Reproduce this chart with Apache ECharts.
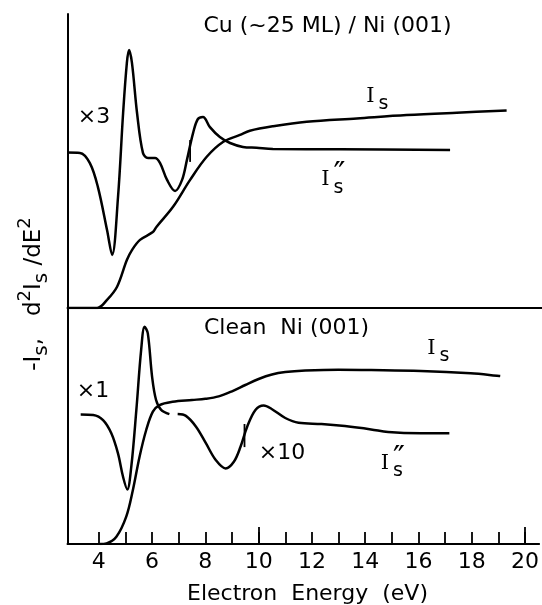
<!DOCTYPE html>
<html>
<head>
<meta charset="utf-8">
<script src="https://cdn.jsdelivr.net/npm/echarts@6/dist/echarts.min.js"></script>
<style>
  html, body { margin: 0; padding: 0; background: #fff; }
  #chart { width: 542px; height: 605px; }
</style>
</head>
<body>
<div id="chart"></div>
<script>
// energies in eV, intensities in arbitrary units
const cuIs = [
  [2.82, 0], [3.93, 0], [4.30, 2.7], [4.67, 7.0], [5.04, 16.0], [5.23, 19.3],
  [5.53, 22.7], [6.01, 25.3], [6.15, 27.1], [6.77, 33.8], [7.40, 42.7],
  [8.02, 50.4], [8.64, 55.4], [9.26, 57.7], [9.63, 59.1], [10.5, 60.6],
  [11.75, 62.1], [13.62, 63.2], [15.48, 64.3], [17.35, 65.1], [19.21, 65.8]
];
const cuD2 = [
  [2.82, 51.8], [3.29, 51.7], [3.66, 48.3], [3.96, 40.3], [4.30, 26.0],
  [4.49, 17.7], [4.71, 37.0], [4.90, 65.0], [5.04, 81.7], [5.12, 86.0],
  [5.23, 81.7], [5.42, 65.0], [5.64, 51.7], [5.83, 50.0], [6.09, 50.0],
  [6.28, 48.3], [6.54, 42.7], [6.84, 39.0], [7.10, 42.7], [7.28, 49.3],
  [7.51, 58.3], [7.69, 63.0], [7.88, 63.7], [8.14, 60.3], [8.51, 57.0],
  [8.89, 55.0], [9.37, 53.7], [9.88, 53.4], [10.49, 53.0], [12.99, 52.9],
  [17.10, 52.7]
];
const cuMark = [[7.40, 56.0], [7.40, 48.7]];

const niIs = [
  [4.04, 0], [4.29, 0.2], [4.66, 2.4], [5.03, 9.1], [5.28, 18.0], [5.53, 29.1],
  [5.78, 38.0], [6.03, 44.1], [6.28, 46.3], [6.77, 47.4], [7.50, 48.0],
  [8.00, 48.4], [8.50, 49.2], [9.00, 50.9], [9.50, 53.0], [10.00, 55.0],
  [10.50, 56.5], [11.00, 57.3], [11.75, 57.8], [12.99, 58.1], [14.22, 58.0],
  [16.09, 57.7], [17.96, 56.9], [19.07, 56.0]
];
const niD2 = [
  [3.32, 43.2], [3.79, 43.0], [4.16, 41.3], [4.47, 36.9], [4.72, 30.2],
  [4.91, 22.4], [5.07, 18.2], [5.22, 25.8], [5.41, 44.7], [5.59, 64.7],
  [5.72, 72.4], [5.84, 70.2], [6.00, 55.8], [6.15, 48.0], [6.34, 44.7],
  [6.65, 43.3], [6.80, null],
  [6.96, 43.3], [7.27, 42.7], [7.65, 39.1], [8.02, 33.6], [8.39, 28.0],
  [8.76, 25.2], [9.07, 27.4], [9.32, 32.4], [9.57, 39.1], [9.88, 44.7],
  [10.19, 46.2], [10.49, 45.0], [11.00, 42.0], [11.50, 40.4], [12.36, 40.0],
  [13.24, 39.3], [14.22, 38.2], [14.86, 37.3], [16.09, 36.9], [17.16, 36.9]
];
const niMark = [[9.47, 40.0], [9.47, 32.3]];

const tickValues = [4, 5, 6, 7, 8, 9, 10, 11, 12, 13, 14, 15, 16, 17, 18, 19, 20];
const labelValues = [4, 6, 8, 10, 12, 14, 16, 18, 20];
const longTicks = [10, 20];

const X_MIN = 2.825, X_MAX = 20.53;
const SANS = 'DejaVu Sans';
const SERIF = 'DejaVu Serif';

function curve(data, idx, w) {
  return {
    type: 'line', data: data, xAxisIndex: idx, yAxisIndex: idx,
    smooth: 0.35, showSymbol: false, connectNulls: false, silent: true,
    lineStyle: { color: '#000', width: w || 2.5 }
  };
}

function plain(x, y, text, size, extra) {
  return {
    type: 'text', x: x, y: y,
    style: Object.assign({
      text: text, font: size + 'px "' + SANS + '"', fill: '#000',
      align: 'center', verticalAlign: 'middle'
    }, extra || {})
  };
}

// "I" with subscript s, optional double prime over the s
function isLabel(x, y, prime) {
  const els = [
    { type: 'text', x: x, y: y, style: { text: 'I', font: '21px "' + SERIF + '"', fill: '#000', align: 'center', verticalAlign: 'middle' } },
    plain(x + 13, y + 8, 's', 19)
  ];
  if (prime) els.push(plain(x + 14, y - 4, '\u2033', 32));
  return els;
}

const chart = echarts.init(document.getElementById('chart'), null, { renderer: 'canvas' });

const axisLine = { show: true, onZero: false, lineStyle: { color: '#000', width: 2 } };

chart.setOption({
  animation: false,
  backgroundColor: '#fff',
  grid: [
    { left: 67.5, right: 0, top: 14, height: 294 },
    { left: 67.5, right: 0, top: 308, height: 236 }
  ],
  xAxis: [
    { type: 'value', gridIndex: 0, min: X_MIN, max: X_MAX, axisLine: axisLine,
      axisTick: { show: false }, axisLabel: { show: false }, splitLine: { show: false } },
    { type: 'value', gridIndex: 1, min: X_MIN, max: X_MAX, axisLine: axisLine,
      splitLine: { show: false },
      axisTick: { show: true, inside: true, length: 12, customValues: tickValues,
        lineStyle: { color: '#000', width: 1.8 } },
      axisLabel: { customValues: labelValues, color: '#000', fontSize: 22,
        fontFamily: SANS, margin: 7 } },
    { type: 'value', gridIndex: 1, position: 'bottom', min: X_MIN, max: X_MAX,
      axisLine: { show: false }, splitLine: { show: false },
      axisTick: { show: true, inside: true, length: 17, customValues: longTicks,
        lineStyle: { color: '#000', width: 1.8 } },
      axisLabel: { show: false } }
  ],
  yAxis: [
    { type: 'value', gridIndex: 0, min: 0, max: 98, axisLine: axisLine,
      axisTick: { show: false }, axisLabel: { show: false }, splitLine: { show: false } },
    { type: 'value', gridIndex: 1, min: 0, max: 236 / 3, axisLine: axisLine,
      axisTick: { show: false }, axisLabel: { show: false }, splitLine: { show: false } }
  ],
  series: [
    curve(cuIs, 0), curve(cuD2, 0), curve(cuMark, 0, 1.8),
    curve(niIs, 1), curve(niD2, 1), curve(niMark, 1, 1.8)
  ],
  graphic: [].concat(
    [
      plain(327.5, 26, 'Cu (~25 ML) / Ni (001)', 22),
      plain(286.5, 328, 'Clean  Ni (001)', 22),
      plain(94, 117, '\u00d73', 22),
      plain(93, 391, '\u00d71', 22),
      plain(282, 453, '\u00d710', 22),
      plain(307.5, 594, 'Electron  Energy  (eV)', 22),
      {
        type: 'text', x: 34, y: 294, rotation: Math.PI / 2,
        style: {
          text: '{m|-I}{sb|s}{m|,   d}{sp|2}{m|I}{sb|s}{m| /dE}{sp|2}',
          align: 'center', verticalAlign: 'middle', fill: '#000',
          rich: {
            m: { fontSize: 23, fontFamily: SANS, lineHeight: 36, verticalAlign: 'middle' },
            sb: { fontSize: 20, fontFamily: SANS, lineHeight: 36, verticalAlign: 'bottom' },
            sp: { fontSize: 18, fontFamily: SANS, lineHeight: 36, verticalAlign: 'top' }
          }
        }
      }
    ],
    isLabel(370.5, 96.5, false),
    isLabel(325.5, 180, true),
    isLabel(431.5, 348.5, false),
    isLabel(385, 463.5, true)
  )
});
</script>
</body>
</html>
